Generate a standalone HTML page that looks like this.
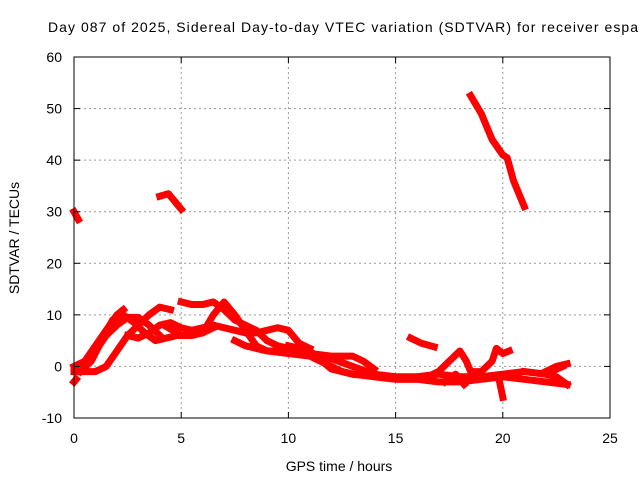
<!DOCTYPE html>
<html><head><meta charset="utf-8"><style>
body{margin:0;background:#fff;overflow:hidden}
svg{display:block;font-family:"Liberation Sans",sans-serif}
</style></head><body>
<svg id="c" width="640" height="480" xmlns="http://www.w3.org/2000/svg">
<text x="48" y="32" font-size="14" textLength="590" lengthAdjust="spacing">Day 087 of 2025, Sidereal Day-to-day VTEC variation (SDTVAR) for receiver espa</text>
<text x="339" y="471" font-size="14" text-anchor="middle">GPS time / hours</text>
<text transform="translate(19,238) rotate(-90)" font-size="14" text-anchor="middle">SDTVAR / TECUs</text>
<g id="grid"></g><g id="marks"></g><g id="ticks"></g>
<rect x="74" y="57" width="536" height="361" fill="none" stroke="#000" stroke-width="1"/>
</svg>
<script>
const xTicks=[0,5,10,15,20,25];
const yTicks=[-10,0,10,20,30,40,50,60];
const trackStart=[[0,30],[0.2,28.5]];
const trackMorning=[[4,33],[4.4,33.5],[4.7,32],[5,30.5]];
const trackHigh=[[18.5,52.5],[19,49],[19.5,44],[20,41],[20.2,40.5],[20.5,36],[21,31]];
const trackShort=[[15.7,5.5],[16.2,4.5],[16.8,3.8]];
const trackA=[[0,-1],[0.5,-1],[1,-1],[1.5,0],[2,3],[2.5,6],[3,8],[3.5,10],[4,11.5],[4.5,11]];
const trackB=[[0,0],[0.5,1],[1,4],[1.5,7],[2,10],[2.3,11]];
const trackC=[[0.3,-1],[0.8,1],[1.3,5],[1.8,9],[2.3,10],[2.8,8.5],[3.3,6.5],[3.8,5],[4.3,5.5],[4.8,6],[5.5,6],[6,6.5],[6.5,7.5]];
const trackD=[[0.5,0],[1,3],[1.5,6],[2,8],[2.5,9.5],[3,9.5],[3.5,8],[4,6]];
const trackE=[[2.5,6],[3,5.5],[3.5,6.5],[4,8],[4.5,8.5],[5,7.5],[5.5,7],[6,7.5],[6.5,8],[7,7.5],[7.5,7],[8,6.5],[8.5,6.5],[9,7],[9.5,7.5],[10,7],[10.5,4.5],[11,3.5]];
const trackF=[[5,12.5],[5.5,12],[6,12],[6.5,12.5],[7,11],[7.5,9],[8,8],[8.5,7],[9,5],[9.5,4],[10,3.5],[10.5,3],[11,2.5],[12,1.5],[13,0],[14,-1.5],[15,-2],[16,-2],[17,-1.5],[18,-2],[19,-2],[20,-1.5],[21,-1],[22,-1.5],[22.8,0]];
const trackG=[[4.2,8],[5,6],[6,6.5],[6.5,10],[7,12.5],[7.5,10],[8,7],[8.5,4],[9,3],[10,2.5],[11,2],[12,0],[12.5,-1],[13,-1.5],[14,-2],[15,-2.5],[16,-2.5],[17,-3],[18,-3],[19,-2.5],[20,-2],[21,-2.5],[22,-3],[23,-3.5]];
const trackH=[[7.5,5],[8,4],[9,3],[10,3],[11,2.5],[12,2],[13,2],[13.5,1],[14,-0.5]];
const trackI=[[10,4],[11,3],[12,-0.5],[12.5,-1],[13,-1.5]];
const trackJ=[[16.5,-2],[17,-1],[17.5,1],[18,3],[18.3,1],[18.5,-1],[19,-1],[19.5,1],[19.7,3.5],[20,2.5],[20.3,3]];
const trackJ2=[[17.3,-3],[17.8,-1.5],[18.2,-3.5]];
const trackJ3=[[19.8,-2],[19.9,-4],[20,-6]];
const trackK=[[21,-1],[22,-1.5],[22.5,-2],[23,-3.5]];
const trackK2=[[22,-1],[22.5,0],[23,0.5]];
const trackL=[[0,-3],[0.1,-2.5]];
const tracks=[trackStart,trackMorning,trackHigh,trackShort,trackA,trackB,trackC,trackD,trackE,trackF,trackG,trackH,trackI,trackJ,trackJ2,trackJ3,trackK,trackK2,trackL];

const X0=74,X1=610,Y0=418,Y1=57,XMIN=0,XMAX=25,YMIN=-10,YMAX=60;
const sx=v=>X0+(v-XMIN)/(XMAX-XMIN)*(X1-X0);
const sy=v=>Y0-(v-YMIN)/(YMAX-YMIN)*(Y0-Y1);
const NS="http://www.w3.org/2000/svg";
const grid=document.getElementById('grid'),ticks=document.getElementById('ticks'),marks=document.getElementById('marks');
function mk(tag,attrs,parent){const e=document.createElementNS(NS,tag);for(const k in attrs)e.setAttribute(k,attrs[k]);parent.appendChild(e);return e;}
xTicks.forEach(t=>{
  const x=sx(t);
  if(t>XMIN&&t<XMAX){const g=mk('line',{x1:x,x2:x,y1:Y1,y2:Y0,stroke:'#999','stroke-dasharray':'2,3'},grid);
  
  }
  const l=mk('text',{x:x,y:443,'font-size':14,'text-anchor':'middle'},ticks);l.textContent=t;
  
  
  mk('line',{x1:x,x2:x,y1:Y0,y2:Y0-6,stroke:'#000'},ticks);
  mk('line',{x1:x,x2:x,y1:Y1,y2:Y1+6,stroke:'#000'},ticks);
});
yTicks.forEach(t=>{
  const y=sy(t);
  if(t>YMIN&&t<YMAX){const g=mk('line',{x1:X0,x2:X1,y1:y,y2:y,stroke:'#999','stroke-dasharray':'2,3'},grid);
  
  }
  const l=mk('text',{x:62,y:y+5,'font-size':14,'text-anchor':'end'},ticks);l.textContent=t;
  
  
  mk('line',{x1:X0,x2:X0+6,y1:y,y2:y,stroke:'#000'},ticks);
  mk('line',{x1:X1,x2:X1-6,y1:y,y2:y,stroke:'#000'},ticks);
});
tracks.forEach(tr=>{
  const p=mk('polyline',{points:tr.map(d=>sx(d[0])+','+sy(d[1])).join(' '),fill:'none',stroke:'#f00','stroke-width':7,'stroke-linejoin':'round','stroke-linecap':'square'},marks);
  
  
});
</script>
</body></html>
